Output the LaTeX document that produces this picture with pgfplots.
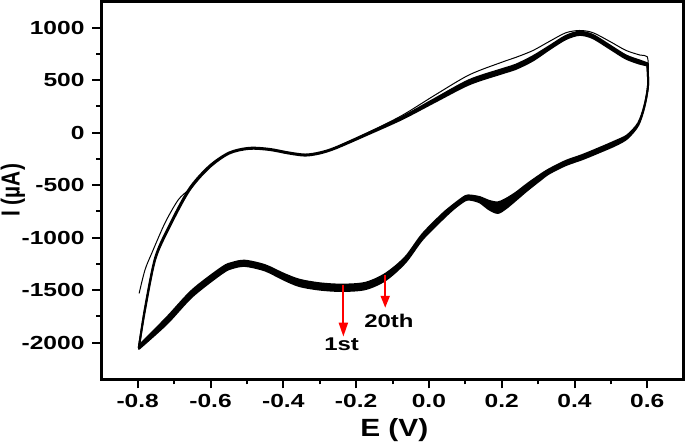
\documentclass[border=0pt]{standalone}
\usepackage{fontspec}
\setmainfont{Liberation Sans}
\usepackage{pgfplots}
\usepackage{pgfplotstable}
\pgfplotsset{compat=1.18}
\usepgfplotslibrary{fillbetween}
\usetikzlibrary{arrows.meta}

\pgfplotstableread{
x a b
-0.797 -2048 -2048
-0.780 -1670 -1690
-0.752 -1190 -1210
-0.714 -890 -910
-0.659 -536 -556
-0.604 -320 -336
-0.549 -190 -200
-0.494 -145 -155
-0.439 -155 -165
-0.384 -190 -200
-0.340 -209 -219
-0.301 -190 -200
-0.257 -142 -152
-0.164 2 -12
-0.073 150 130
0.018 325 295
0.111 500 460
0.202 605 565
0.238 645 605
0.285 725 685
0.332 825 795
0.376 920 890
0.414 960 930
0.450 930 900
0.497 830 800
0.541 735 705
0.580 685 655
0.600 660 640
}\upperbranch

\pgfplotstableread{
x a b
0.600 660 640
0.602 450 450
0.592 255 245
0.575 90 70
0.545 -25 -55
0.513 -80 -120
0.469 -146 -186
0.422 -213 -253
0.376 -270 -310
0.330 -350 -390
0.304 -407 -457
0.270 -490 -550
0.238 -575 -645
0.210 -635 -725
0.189 -665 -765
0.165 -650 -730
0.140 -615 -665
0.115 -600 -640
0.100 -605 -645
0.070 -680 -720
0.037 -775 -825
-0.018 -968 -1018
-0.065 -1187 -1237
-0.119 -1344 -1404
-0.174 -1430 -1490
-0.238 -1448 -1508
-0.300 -1435 -1495
-0.356 -1401 -1461
-0.400 -1343 -1398
-0.450 -1263 -1313
-0.505 -1220 -1270
-0.540 -1240 -1290
-0.568 -1283 -1338
-0.650 -1500 -1560
-0.720 -1760 -1820
-0.797 -2030 -2060
}\lowerbranch

\pgfplotstableread{
x y
-0.796 -1529
-0.780 -1307
-0.761 -1145
-0.725 -860
-0.689 -642
-0.659 -540
-0.620 -385
}\firstA

\pgfplotstableread{
x y
-0.200 -55
-0.164 5
-0.073 165
0.018 360
0.111 550
0.202 672
0.238 715
0.285 780
0.332 870
0.376 950
0.414 972
0.450 952
0.497 868
0.541 783
0.580 738
0.600 722
0.603 600
}\firstB

\begin{document}
\begin{tikzpicture}
\begin{axis}[
  scale only axis, width=583bp, height=378.5bp,
  xmin=-0.9, xmax=0.7, ymin=-2350, ymax=1250,
  xtick={-0.8,-0.6,-0.4,-0.2,0,0.2,0.4,0.6},
  ytick={-2000,-1500,-1000,-500,0,500,1000},
  minor x tick num=1, minor y tick num=1,
  tick align=outside, xtick pos=left, ytick pos=left,
  major tick length=9bp, minor tick length=5bp,
  tick style={black, line width=2bp},
  axis line style={line width=2.6bp},
  /pgf/number format/assume math mode=true,
  xticklabel style={/pgf/number format/fixed, /pgf/number format/fixed zerofill,
     /pgf/number format/precision=1,
     font=\bfseries\fontsize{19}{19}\selectfont, xscale=1.3, yshift=-2bp},
  yticklabel style={/pgf/number format/set thousands separator={},
     font=\bfseries\fontsize{19}{19}\selectfont, xscale=1.3, xshift=-2.5bp},
  xlabel={E (V)}, ylabel={I (µA)},
  xlabel style={at={(axis description cs:0.503,-0.1506)}, anchor=base, inner sep=0pt,
     font=\bfseries\fontsize{25}{25}\selectfont, xscale=1.2},
  ylabel style={at={(axis description cs:-0.152,0.5)}, anchor=center, inner sep=0.5bp,
     font=\bfseries\fontsize{21}{21}\selectfont, yscale=1.25},
  every axis plot/.append style={line join=round, line cap=round},
]
\addplot[black, line width=2bp, smooth, tension=0.5, name path=UA] table[x=x, y=a] {\upperbranch};
\addplot[black, line width=2bp, smooth, tension=0.5, name path=UB] table[x=x, y=b] {\upperbranch};
\addplot[black, line width=2bp, smooth, tension=0.5, name path=LA] table[x=x, y=a] {\lowerbranch};
\addplot[black, line width=2bp, smooth, tension=0.5, name path=LB] table[x=x, y=b] {\lowerbranch};
\addplot[black, draw=none] fill between[of=UA and UB];
\addplot[black, draw=none] fill between[of=LA and LB];
\addplot[black, line width=1bp, smooth, tension=0.5] table[x=x, y=y] {\firstA};
\addplot[black, line width=1bp, smooth, tension=0.5] table[x=x, y=y] {\firstB};

\draw[red, line width=2bp, -{Triangle[width=9bp,length=14bp]}] (axis cs:-0.235,-1450) -- (axis cs:-0.235,-1943);
\draw[red, line width=2bp, -{Triangle[width=9bp,length=12bp]}] (axis cs:-0.120,-1354) -- (axis cs:-0.120,-1668);
\node[font=\bfseries\fontsize{18.5}{18.5}\selectfont, xscale=1.3] at (axis cs:-0.240,-2019) {1st};
\node[font=\bfseries\fontsize{18.5}{18.5}\selectfont, xscale=1.3] at (axis cs:-0.110,-1796) {20th};
\end{axis}
\end{tikzpicture}
\end{document}
